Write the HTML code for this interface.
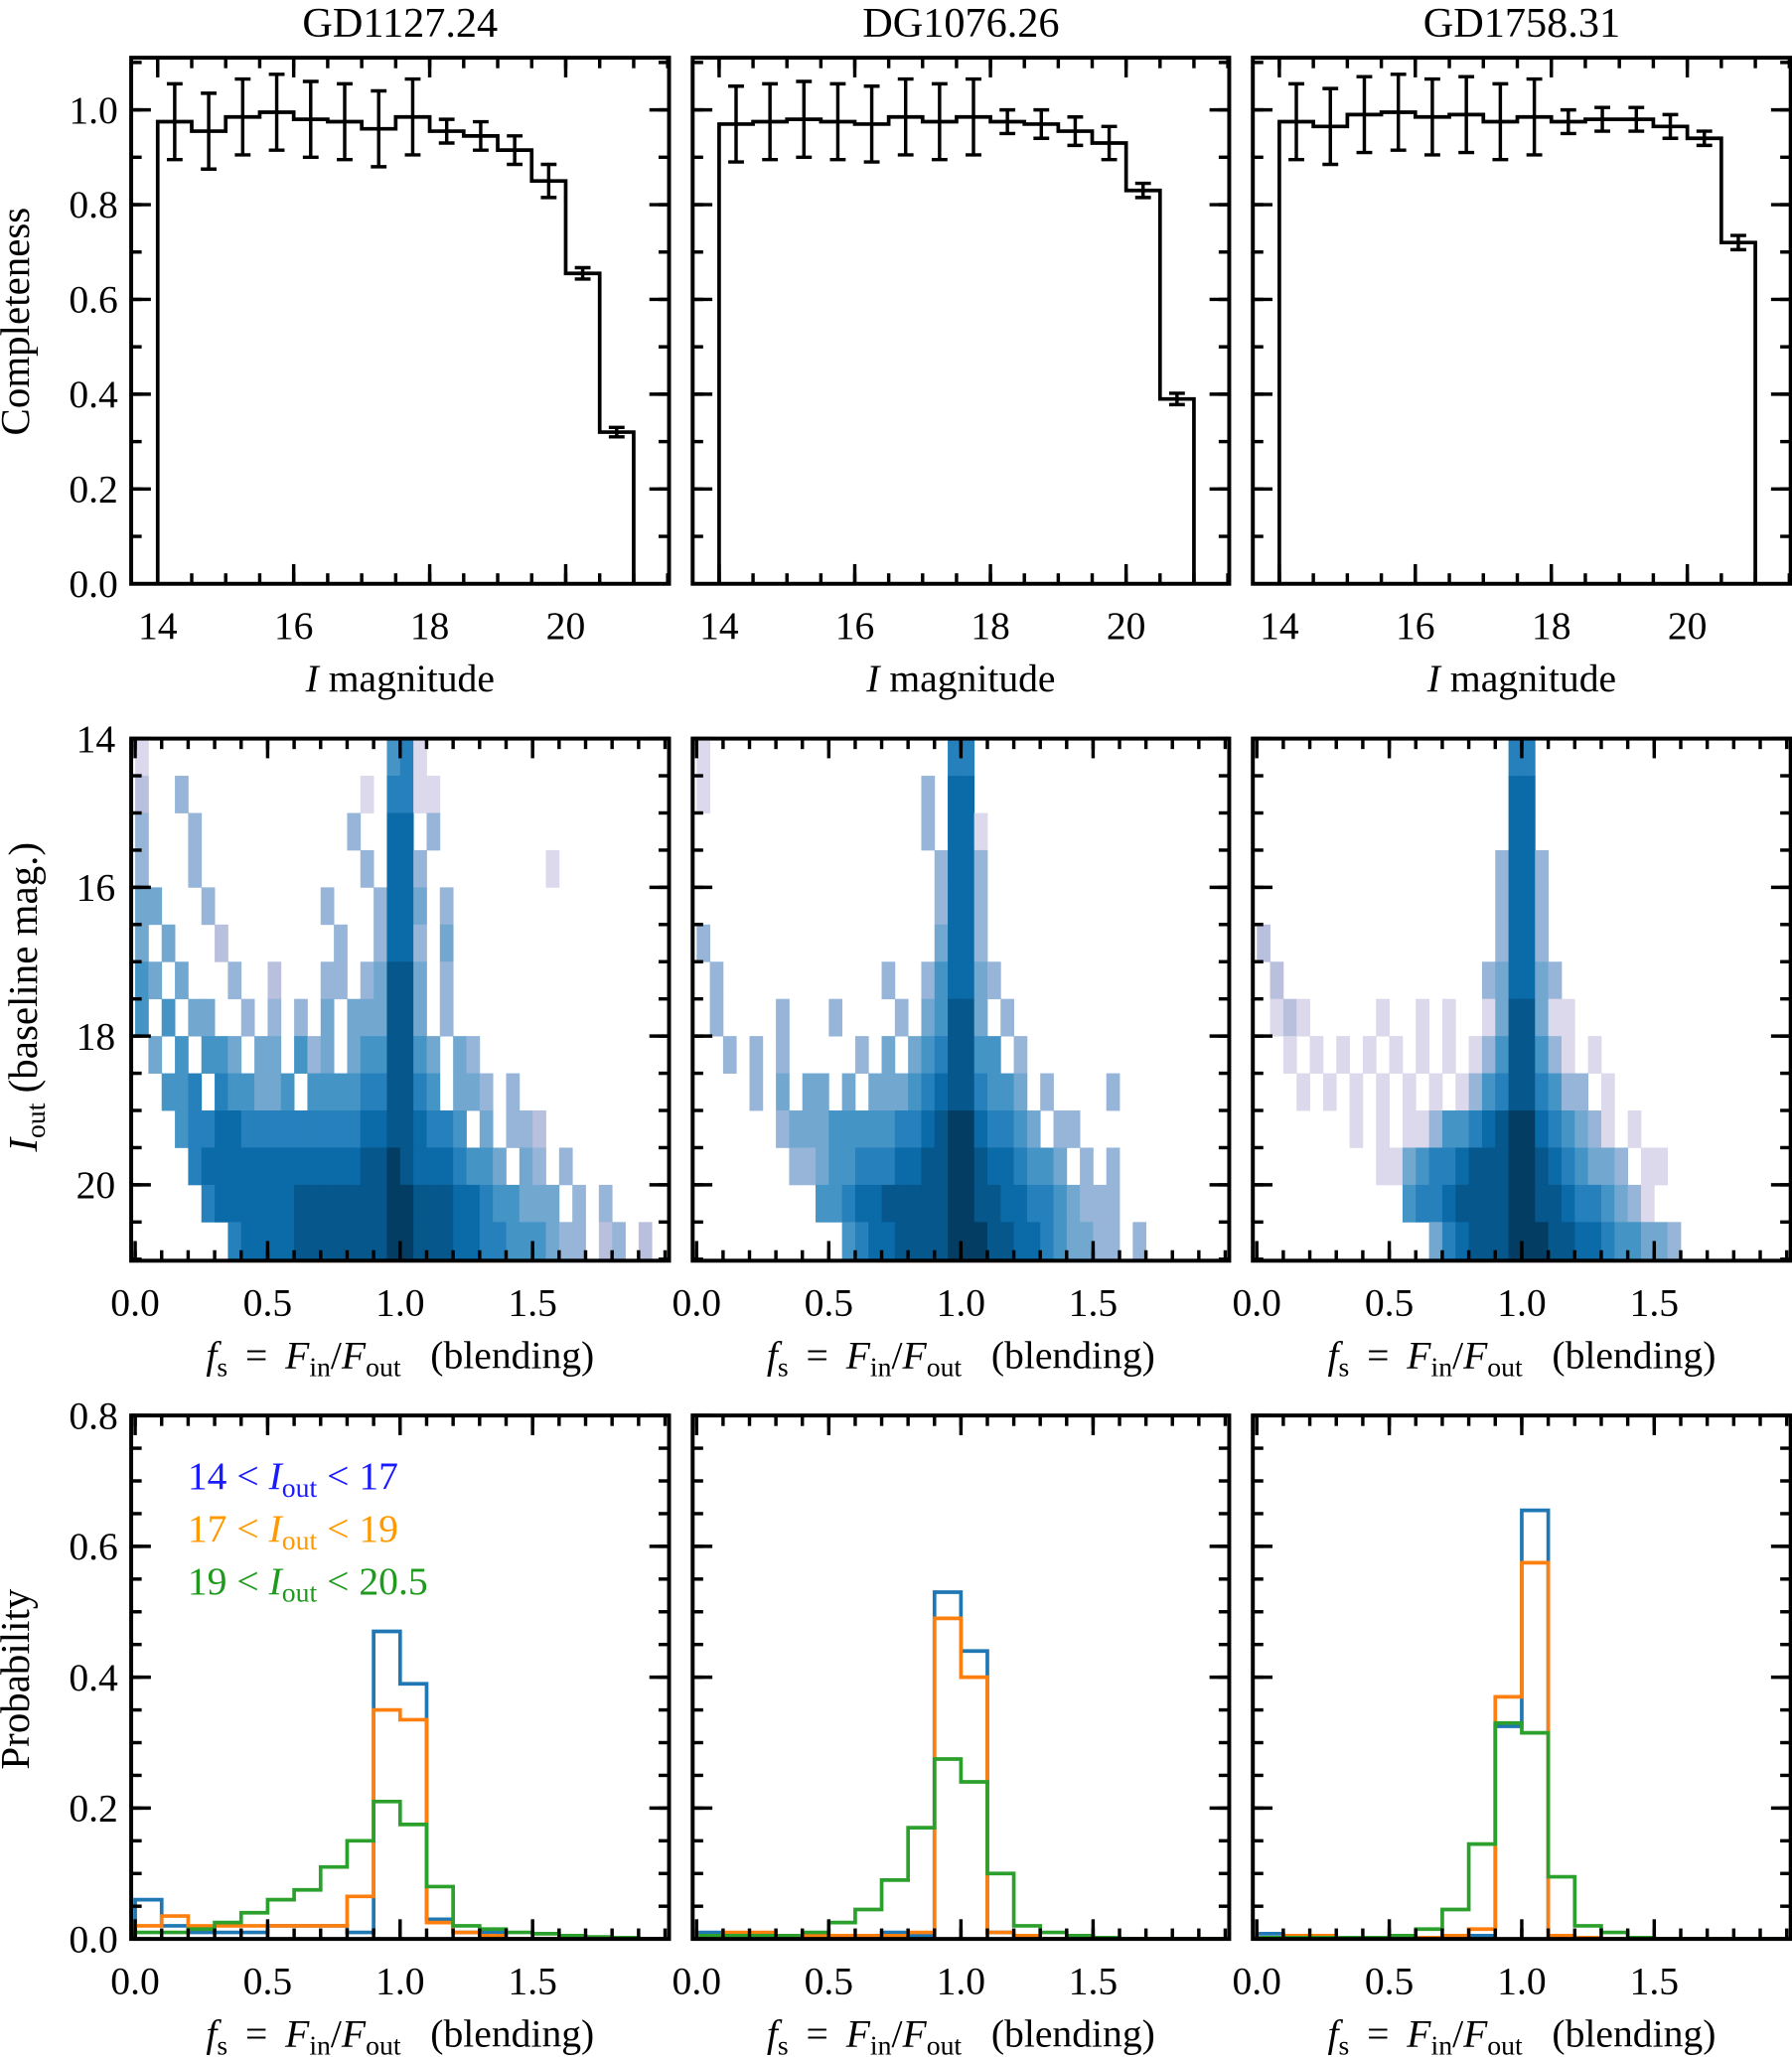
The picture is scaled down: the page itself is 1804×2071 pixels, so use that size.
<!DOCTYPE html>
<html><head><meta charset="utf-8"><style>
html,body{margin:0;padding:0;background:#fff}
svg{display:block}
text{font-family:"Liberation Serif",serif;fill:#000}
</style></head><body>
<svg id="fig" width="1804" height="2071" viewBox="0 0 1366 1568" preserveAspectRatio="none" xmlns="http://www.w3.org/2000/svg"></svg>
<script>
// ---------- data ----------
const fieldNames = ["GD1127.24","DG1076.26","GD1758.31"];
const magBinEdges = [14,14.5,15,15.5,16,16.5,17,17.5,18,18.5,19,19.5,20,20.5,21];
const completeness1 = [0.975,0.955,0.985,0.995,0.98,0.975,0.96,0.985,0.955,0.945,0.915,0.85,0.655,0.32];
const completeness2 = [0.97,0.975,0.98,0.975,0.97,0.985,0.975,0.985,0.975,0.97,0.955,0.93,0.83,0.39];
const completeness3 = [0.975,0.965,0.99,0.995,0.985,0.99,0.975,0.985,0.975,0.98,0.98,0.965,0.94,0.72];
const compErr1 = [0.08,0.08,0.08,0.08,0.08,0.08,0.08,0.08,0.025,0.03,0.03,0.035,0.012,0.01];
const compErr2 = [0.08,0.08,0.08,0.08,0.08,0.08,0.08,0.08,0.025,0.03,0.03,0.035,0.015,0.012];
const compErr3 = [0.08,0.08,0.08,0.08,0.08,0.08,0.08,0.08,0.025,0.025,0.025,0.025,0.015,0.015];
const compTicks = ["0.0","0.2","0.4","0.6","0.8","1.0"];
const magTicks = [14,16,18,20];

// heatmap: rows I_out 14..21 step 0.5, columns fs 0..2 step 0.05, intensity 0-9
const heat1 = [
"1000000000"+"0000000005"+"6100000000"+"0000000000",
"2003000000"+"0000000106"+"6110000000"+"0000000000",
"3000300000"+"0000003007"+"7030000000"+"0000000000",
"3000300000"+"0000000307"+"7300000000"+"0100000000",
"4400030000"+"0000300037"+"7403000000"+"0000000000",
"4040002000"+"0000030037"+"7304000000"+"0000000000",
"5404000300"+"2000330348"+"8403000000"+"0000000000",
"5050440030"+"3030404448"+"8403000000"+"0000000000",
"0405055404"+"4053404558"+"8540430000"+"0000000000",
"0055606554"+"4505555668"+"8650443030"+"0000000000",
"0005667766"+"6666666778"+"8766504033"+"2000000000",
"0000677777"+"7777777889"+"8777655404"+"3030000000",
"0000067777"+"7788888889"+"9888776554"+"4403030000",
"0000000677"+"7788888889"+"9888776655"+"5433023020"];
const heat2 = [
"1000000000"+"0000000006"+"6000000000"+"0000000000",
"1000000000"+"0000000307"+"7000000000"+"0000000000",
"0000000000"+"0000000307"+"7100000000"+"0000000000",
"0000000000"+"0000000037"+"7300000000"+"0000000000",
"0000000000"+"0000000037"+"7300000000"+"0000000000",
"3000000000"+"0000000047"+"7300000000"+"0000000000",
"0300000000"+"0000300357"+"7430000000"+"0000000000",
"0300003000"+"3000030458"+"8403000000"+"0000000000",
"0030303000"+"0030404568"+"8550300000"+"0000000000",
"0000304044"+"0404445678"+"8655403000"+"0300000000",
"0000003444"+"5555566789"+"9766540330"+"0000000000",
"0000000334"+"5566677889"+"9877655403"+"0300000000",
"0000000005"+"5677888889"+"9887766543"+"3300000000",
"0000000000"+"0567788889"+"9988776544"+"3303000000"];
const heat3 = [
"0000000000"+"0000000006"+"6000000000"+"0000000000",
"0000000000"+"0000000007"+"7000000000"+"0000000000",
"0000000000"+"0000000007"+"7000000000"+"0000000000",
"0000000000"+"0000000037"+"7300000000"+"0000000000",
"0000000000"+"0000000037"+"7300000000"+"0000000000",
"2000000000"+"0000000037"+"7300000000"+"0000000000",
"0200000000"+"0000000347"+"7430000000"+"0000000000",
"0121000001"+"0010100148"+"8411000000"+"0000000000",
"0010101010"+"1010101358"+"8531010000"+"0000000000",
"0001010101"+"0101013568"+"8653301000"+"0000000000",
"0000000101"+"0113556789"+"9765431010"+"0000000000",
"0000000001"+"1456678889"+"9876544301"+"1000000000",
"0000000000"+"0566788889"+"9887665431"+"0000000000",
"0000000000"+"0004678889"+"9988776554"+"4300000000"];
const iTicks = [14,16,18,20];
const fsTicks = ["0.0","0.5","1.0","1.5"];

// probability histograms, bins 0..2 step 0.1
const p1Blue   = [0.06,0.02,0.01,0.01,0.01,0.02,0.02,0.02,0.01,0.47,0.39,0.03,0.01,0.01,0,0,0,0,0,0];
const p1Orange = [0.02,0.035,0.02,0.02,0.02,0.02,0.02,0.02,0.065,0.35,0.335,0.025,0.01,0.005,0,0,0,0,0,0];
const p1Green  = [0.01,0.01,0.015,0.025,0.04,0.06,0.075,0.11,0.15,0.21,0.175,0.08,0.02,0.015,0.01,0.008,0.005,0.003,0.002,0];
const p2Blue   = [0.01,0.005,0.005,0.005,0.005,0.005,0.005,0.01,0.005,0.53,0.44,0.01,0,0,0,0,0,0,0,0];
const p2Orange = [0.005,0.01,0.01,0.005,0.005,0.005,0.005,0.005,0.01,0.49,0.40,0.01,0.005,0,0,0,0,0,0,0];
const p2Green  = [0.005,0.005,0.005,0.005,0.01,0.025,0.045,0.09,0.17,0.275,0.24,0.1,0.02,0.01,0.005,0.002,0,0,0,0];
const p3Blue   = [0.008,0.002,0.002,0.001,0.001,0.001,0.002,0.002,0.005,0.325,0.655,0.005,0,0,0,0,0,0,0,0];
const p3Orange = [0.002,0.005,0.005,0.002,0.002,0.002,0.002,0.005,0.015,0.37,0.575,0.005,0.002,0,0,0,0,0,0,0];
const p3Green  = [0.002,0.002,0.002,0.002,0.002,0.005,0.015,0.045,0.145,0.33,0.315,0.095,0.02,0.01,0.002,0,0,0,0,0];
const probTicks = ["0.0","0.2","0.4","0.6","0.8"];

// ---------- drawing ----------
const NS="http://www.w3.org/2000/svg";
const svg=document.getElementById('fig');
function el(tag,attrs,parent){const e=document.createElementNS(NS,tag);for(const k in attrs)e.setAttribute(k,attrs[k]);(parent||svg).appendChild(e);return e;}
const cols=[[100,510],[528,937],[955,1365]];
const rows=[[44,445],[563,961],[1079,1478]];
const palette=["#ffffff","#dcd9ec","#b9c0de","#97b5d8","#72a8d0","#4594c6","#2580bc","#0b6aa8","#05578c","#033d63"];
function lin(d0,d1,r0,r1){return v=>r0+(v-d0)*(r1-r0)/(d1-d0);}
function ticks(g,sx,sy,xs,ys,len){
  xs.forEach(v=>{const x=sx(v);
    el('line',{x1:x,x2:x,y1:sy.b,y2:sy.b-len,stroke:'#000','stroke-width':2.6},g);
    el('line',{x1:x,x2:x,y1:sy.t,y2:sy.t+len,stroke:'#000','stroke-width':2.6},g);});
  ys.forEach(v=>{const y=sy(v);
    el('line',{x1:sx.l,x2:sx.l+len,y1:y,y2:y,stroke:'#000','stroke-width':2.6},g);
    el('line',{x1:sx.r,x2:sx.r-len,y1:y,y2:y,stroke:'#000','stroke-width':2.6},g);});
}
function range(a,b,s){const o=[];for(let v=a;v<=b+1e-9;v+=s)o.push(+v.toFixed(4));return o;}
function frame(g,c,r){el('rect',{x:c[0],y:r[0],width:c[1]-c[0],height:r[1]-r[0],fill:'none',stroke:'#000','stroke-width':3},g);}
function txt(g,x,y,s,size,anchor,extra){const t=el('text',Object.assign({x:x,y:y,'font-size':size,'text-anchor':anchor||'middle'},extra||{}),g);t.textContent=s;return t;}
function fsLabel(g,cx,y){
  const t=el('text',{x:cx,y:y,'font-size':30,'text-anchor':'middle','xml:space':'preserve'},g);
  t.innerHTML='<tspan font-style="italic">f</tspan><tspan font-size="21" dy="6">s</tspan><tspan dy="-6"> \u2009=\u2009 </tspan><tspan font-style="italic">F</tspan><tspan font-size="21" dy="6">in</tspan><tspan dy="-6">/</tspan><tspan font-style="italic">F</tspan><tspan font-size="21" dy="6">out</tspan><tspan dy="-6">\u2002 (blending)</tspan>';
  
  
}

const comps=[completeness1,completeness2,completeness3];
const errs=[compErr1,compErr2,compErr3];
const heats=[heat1,heat2,heat3];
const probs=[[p1Blue,p1Orange,p1Green],[p2Blue,p2Orange,p2Green],[p3Blue,p3Orange,p3Green]];
const lineColors=["#1f77b4","#ff7f0e","#2ca02c"];

cols.forEach((c,ci)=>{
  // ---- top: completeness ----
  let g=el('g',{});
  
  
  let r=rows[0];
  let sx=lin(13.61,21.52,c[0],c[1]); sx.l=c[0]; sx.r=c[1];
  let sy=lin(0,1.11,r[1],r[0]); sy.t=r[0]; sy.b=r[1];
  const tt=txt(g,(c[0]+c[1])/2,28,fieldNames[ci],32);
  
  
  const cv=comps[ci];
  let d='M'+sx(magBinEdges[0])+','+sy(0);
  cv.forEach((v,i)=>{d+=' L'+sx(magBinEdges[i])+','+sy(v)+' L'+sx(magBinEdges[i+1])+','+sy(v);});
  d+=' L'+sx(magBinEdges[magBinEdges.length-1])+','+sy(0);
  const step=el('path',{d:d,fill:'none',stroke:'#000','stroke-width':2.8},g);
  
  
  cv.forEach((v,i)=>{
    const xm=sx((magBinEdges[i]+magBinEdges[i+1])/2),e=errs[ci][i];
    const eb=el('path',{d:`M${xm},${sy(v-e)} L${xm},${sy(v+e)} M${xm-6},${sy(v-e)} L${xm+6},${sy(v-e)} M${xm-6},${sy(v+e)} L${xm+6},${sy(v+e)}`,stroke:'#000','stroke-width':2.6,fill:'none'},g);
    
    
  });
  ticks(g,sx,sy,range(14,21.5,0.5),range(0,1.1,0.1),8);
  ticks(g,sx,sy,magTicks,compTicks.map(Number),15);
  frame(g,c,r);
  magTicks.forEach(v=>txt(g,sx(v),487,String(v),30));
  const xl=el('text',{x:(c[0]+c[1])/2,y:527,'font-size':30,'text-anchor':'middle','xml:space':'preserve'},g);
  xl.innerHTML='<tspan font-style="italic">I</tspan>  magnitude';
  
  
  if(ci===0){compTicks.forEach(s=>txt(g,90,sy(+s)+10,s,30,'end'));
    const yl=txt(g,0,0,'Completeness',31,'middle',{transform:'translate(22,245) rotate(-90)'});
    
    }

  // ---- middle: heatmap ----
  g=el('g',{});
  
  
  r=rows[1];
  sx=lin(-0.015,2.015,c[0],c[1]); sx.l=c[0]; sx.r=c[1];
  sy=lin(14,21.02,r[0],r[1]); sy.t=r[0]; sy.b=r[1];
  heats[ci].forEach((row,ri)=>{
    for(let k=0;k<row.length;k++){const v=+row[k]; if(!v) continue;
      const x0=sx(k*0.05),x1=sx((k+1)*0.05),y0=sy(14+ri*0.5),y1=Math.min(sy(14.5+ri*0.5),r[1]);
      const cell=el('rect',{x:x0,y:y0,width:x1-x0+0.3,height:y1-y0+0.3,fill:palette[v]},g);
      
      
    }});
  ticks(g,sx,sy,range(0,2,0.1),range(14,21,0.5),8);
  ticks(g,sx,sy,fsTicks.map(Number),iTicks,15);
  frame(g,c,r);
  fsTicks.forEach(s=>txt(g,sx(+s),1003,s,30));
  fsLabel(g,(c[0]+c[1])/2,1043);
  if(ci===0){iTicks.forEach(v=>txt(g,88,sy(v)+10,String(v),30,'end'));
    const yl=el('text',{'font-size':31,'text-anchor':'middle',transform:'translate(28,760) rotate(-90)','xml:space':'preserve'},g);
    yl.innerHTML='<tspan font-style="italic">I</tspan><tspan font-size="21" dy="6">out</tspan><tspan dy="-6">  (baseline mag.)</tspan>';
    
    }

  // ---- bottom: probability ----
  g=el('g',{});
  
  
  r=rows[2];
  sy=lin(0,0.8,r[1],r[0]); sy.t=r[0]; sy.b=r[1];
  probs[ci].forEach((arr,si)=>{
    let d='M'+sx(0)+','+sy(0);
    arr.forEach((v,i)=>{d+=' L'+sx(i*0.1)+','+sy(v)+' L'+sx((i+1)*0.1)+','+sy(v);});
    const p=el('path',{d:d,fill:'none',stroke:lineColors[si],'stroke-width':2.8},g);
    
    
  });
  ticks(g,sx,sy,range(0,2,0.1),range(0,0.8,0.05),8);
  ticks(g,sx,sy,fsTicks.map(Number),probTicks.map(Number),15);
  frame(g,c,r);
  fsTicks.forEach(s=>txt(g,sx(+s),1520,s,30));
  fsLabel(g,(c[0]+c[1])/2,1560);
  if(ci===0){probTicks.forEach(s=>txt(g,90,sy(+s)+10,s,30,'end'));
    const yl=txt(g,0,0,'Probability',31,'middle',{transform:'translate(22,1280) rotate(-90)'});
    
    
    const leg=[["14","17","#1a1aff"],["17","19","#ff9900"],["19","20.5","#1f9a1f"]];
    leg.forEach((L,i)=>{
      const t=el('text',{x:143,y:1135+i*40,'font-size':30,fill:L[2],style:'fill:'+L[2],'xml:space':'preserve'},g);
      t.innerHTML=L[0]+' &lt; <tspan font-style="italic">I</tspan><tspan font-size="21" dy="6">out</tspan><tspan dy="-6"> &lt; '+L[1]+'</tspan>';
      
      
    });}
});
</script>
</body></html>
